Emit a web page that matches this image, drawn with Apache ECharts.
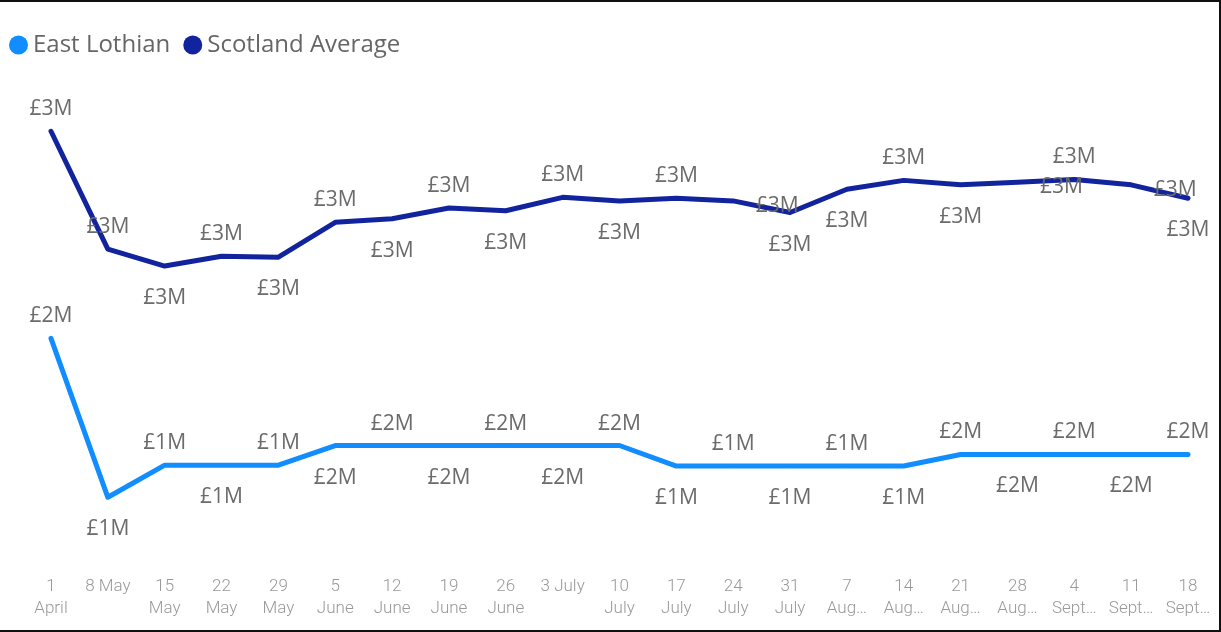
<!DOCTYPE html>
<html>
<head>
<meta charset="utf-8">
<script src="https://cdn.jsdelivr.net/npm/echarts@6/dist/echarts.min.js"></script>
<style>
  html, body { margin: 0; padding: 0; background: #fff; }
  .frame {
    width: 1221px;
    height: 632px;
    box-sizing: border-box;
    border-top: 2px solid #111;
    border-right: 2px solid #111;
    border-bottom: 2px solid #111;
  }
  #chart { width: 100%; height: 100%; }
</style>
</head>
<body>
<div class="frame"><div id="chart"></div></div>
<script>
  // tick labels as shown on the axis (Power BI wraps / truncates them)
  const weeks = [
    '1\nApril', '8 May', '15\nMay', '22\nMay', '29\nMay', '5\nJune', '12\nJune',
    '19\nJune', '26\nJune', '3 July', '10\nJuly', '17\nJuly', '24\nJuly', '31\nJuly',
    '7\nAug…', '14\nAug…', '21\nAug…', '28\nAug…', '4\nSept…', '11\nSept…', '18\nSept…'
  ];

  // weekly spend, £
  const eastLothian = [
    2180000, 1290000, 1470000, 1470000, 1470000, 1580000, 1580000,
    1580000, 1580000, 1580000, 1580000, 1465000, 1465000, 1465000,
    1465000, 1465000, 1530000, 1530000, 1530000, 1530000, 1530000
  ];
  const scotlandAvg = [
    3340000, 2680000, 2585000, 2640000, 2635000, 2830000, 2850000,
    2910000, 2895000, 2970000, 2950000, 2965000, 2950000, 2885000,
    3015000, 3065000, 3040000, 3055000, 3070000, 3040000, 2965000
  ];

  // where each data label sits (Power BI moves some sideways to dodge)
  const eastLabelPos = eastLothian.map((v, i) => (i % 2 === 0 ? 'top' : 'bottom'));
  const scotLabelPos = [
    'top', 'top', 'bottom', 'top', 'bottom', 'top', 'bottom',
    'top', 'bottom', 'top', 'bottom', 'top', 'side', 'bottom',
    'bottom', 'top', 'bottom', 'side', 'top', 'side', 'bottom'
  ];

  const fmt = (p) => '£' + Math.round(p.value / 1e6) + 'M';

  const labelFor = (pos) => {
    if (pos === 'top') return { position: 'top', distance: 9 };
    if (pos === 'bottom') return { position: 'bottom', distance: 19 };
    return { position: 'inside', offset: [44, 5] };
  };

  const buildData = (values, positions) =>
    values.map((v, i) => ({ value: v, label: labelFor(positions[i]) }));

  const seriesBase = {
    type: 'line',
    symbol: 'circle',
    symbolSize: 2,
    showSymbol: true,
    lineStyle: { width: 5, cap: 'round', join: 'round' },
    emphasis: { disabled: true },
    label: {
      show: true,
      formatter: fmt,
      fontFamily: 'Open Sans',
      fontSize: 21,
      lineHeight: 24,
      color: '#6b6b6b'
    }
  };

  const chart = echarts.init(document.getElementById('chart'));
  chart.setOption({
    animation: false,
    legend: {
      left: 4,
      top: 26,
      itemWidth: 19,
      itemHeight: 19,
      itemGap: 13,
      icon: 'circle',
      textStyle: { fontFamily: 'Open Sans', fontSize: 24, color: '#666' },
      data: ['East Lothian', 'Scotland Average']
    },
    grid: { left: 51, right: 31, top: 90, bottom: 72 },
    xAxis: {
      type: 'category',
      data: weeks,
      boundaryGap: false,
      axisLine: { show: false },
      axisTick: { show: false },
      axisLabel: {
        interval: 0,
        margin: 18,
        fontFamily: 'Roboto',
        fontWeight: 300,
        fontSize: 17,
        lineHeight: 22,
        color: '#999'
      }
    },
    yAxis: {
      type: 'value',
      min: 950000,
      max: 3560000,
      show: false,
      splitLine: { show: false }
    },
    series: [
      Object.assign({}, seriesBase, {
        name: 'East Lothian',
        color: '#118DFF',
        data: buildData(eastLothian, eastLabelPos)
      }),
      Object.assign({}, seriesBase, {
        name: 'Scotland Average',
        color: '#12239E',
        data: buildData(scotlandAvg, scotLabelPos)
      })
    ]
  });
</script>
</body>
</html>
